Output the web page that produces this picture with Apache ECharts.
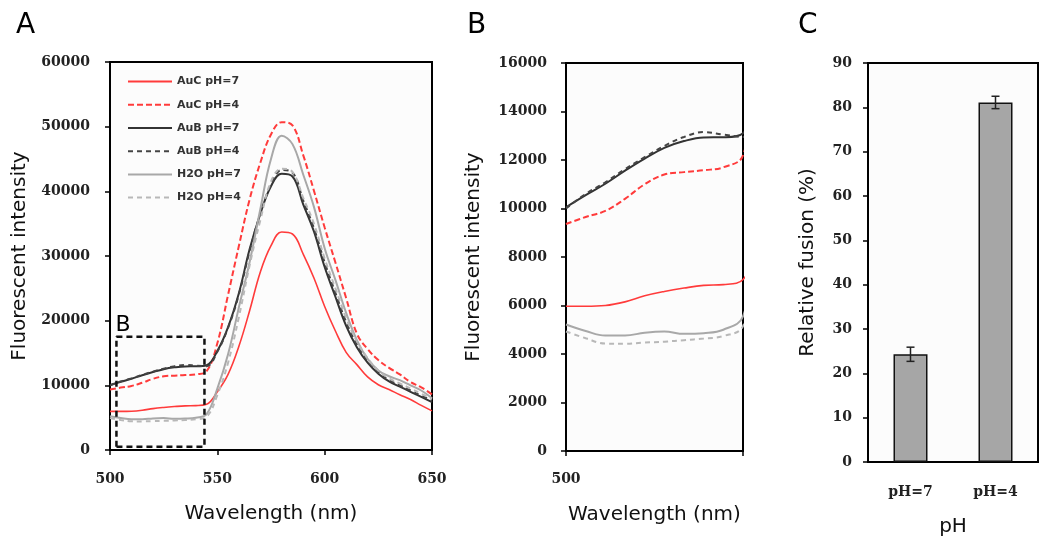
<!DOCTYPE html>
<html>
<head>
<meta charset="utf-8">
<script src="https://cdn.jsdelivr.net/npm/echarts@6/dist/echarts.min.js"></script>
<style>
html, body {margin: 0; background: #fff;}
#main {width: 1050px; height: 543px;}
</style>
</head>
<body>
<div id="main"></div>
<script>
let chart = echarts.init(document.getElementById("main"));
//----------------------Data----------------------
let wavelength = [500, 505, 510, 515, 520, 525, 530, 535, 540, 545, 550, 555, 560, 565, 570, 575,
    580, 585, 590, 595, 600, 605, 610, 615, 620, 625, 630, 635, 640, 645, 650];
let auc_ph7 = [5970, 5970, 6000, 6150, 6400, 6580, 6720, 6830, 6860, 7070, 9000, 11700, 16000, 21500, 27500, 31600,
    33700, 33400, 30300, 26600, 22200, 18400, 15100, 13200, 11300, 10100, 9350, 8550, 7800, 6900, 6050];
let auc_ph4 = [9360, 9650, 9900, 10400, 11000, 11400, 11500, 11580, 11700, 12190, 16500, 24000, 31500, 38700, 44400, 48800,
    50700, 50200, 45600, 40100, 34400, 29000, 23500, 18000, 15600, 13900, 12700, 11700, 10500, 9700, 8600];
let aub_ph7 = [10050, 10550, 11020, 11560, 12060, 12500, 12780, 12930, 12940, 13100, 15300, 19000, 24200, 31000, 36500, 40800,
    42700, 42300, 38000, 33800, 28300, 23700, 19200, 15900, 13500, 11800, 10600, 9800, 9000, 8200, 7400];
let aub_ph4 = [10000, 10600, 11080, 11620, 12120, 12580, 12950, 13150, 13050, 12950, 15200, 18900, 24000, 30700, 36500, 41000,
    43300, 42900, 38600, 34300, 29000, 24300, 19800, 16300, 13800, 12000, 10800, 10000, 9200, 8400, 7700];
let h2o_ph7 = [5214, 4950, 4760, 4760, 4880, 4930, 4830, 4860, 5000, 5550, 9500, 14800, 22000, 29000, 37200, 45000,
    48600, 47300, 42600, 37600, 31200, 26300, 21200, 17000, 14100, 12300, 11400, 10800, 10000, 9200, 8000];
let h2o_ph4 = [4930, 4650, 4430, 4420, 4470, 4510, 4570, 4640, 4740, 5150, 8500, 13500, 20500, 28500, 35500, 41500,
    43500, 43000, 39000, 35000, 29600, 25000, 20400, 16800, 14200, 12300, 11100, 10300, 9500, 8700, 7900];
// zoom box drawn on panel A (wavelength range, intensity range)
let box_x = [503, 544];
let box_y = [500, 17500];
// panel C
let ph_labels = ["pH=7", "pH=4"];
let fusion_mean = [24.3, 81.1];
let fusion_err = [1.6, 1.4];

//---------------------Styles---------------------
let plain_num = function (v) { return String(v); };
let serif_label = {fontFamily: "DejaVu Serif", fontWeight: "bold", fontSize: 14, color: "#222"};
let title_font = {fontFamily: "DejaVu Sans", fontSize: 20, color: "#111"};
let axis_line = {show: true, onZero: false, lineStyle: {color: "#000", width: 2}};
let axis_tick = {show: true, length: 5, lineStyle: {color: "#000", width: 1.5}};

let spectra = [
    {name: "AuC pH=7", values: auc_ph7, color: "#ff3b3b", type: "solid", width: 1.6},
    {name: "AuC pH=4", values: auc_ph4, color: "#ff3b3b", type: [6, 3], width: 2},
    {name: "AuB pH=7", values: aub_ph7, color: "#333333", type: "solid", width: 2},
    {name: "AuB pH=4", values: aub_ph4, color: "#444444", type: [5, 4], width: 2},
    {name: "H2O pH=7", values: h2o_ph7, color: "#a8a8a8", type: "solid", width: 2},
    {name: "H2O pH=4", values: h2o_ph4, color: "#b8b8b8", type: [5, 4], width: 2},
];

function to_pairs(xs, ys) {
    let out = [];
    for (let i = 0; i < xs.length; i++) out.push([xs[i], ys[i]]);
    return out;
}

//---------------------Series---------------------
let series_list = [];
for (let g = 0; g < 2; g++) {
    spectra.forEach(function (s) {
        series_list.push({
            type: "line",
            name: s.name,
            xAxisIndex: g,
            yAxisIndex: g,
            smooth: 0.4,
            symbol: "none",
            clip: true,
            lineStyle: {color: s.color, type: s.type, width: s.width},
            itemStyle: {color: s.color},
            data: to_pairs(wavelength, s.values),
            z: 3,
        });
    });
}
// dashed box marking the zoomed region of panel B
series_list.push({
    type: "line",
    xAxisIndex: 0,
    yAxisIndex: 0,
    symbol: "none",
    silent: true,
    lineStyle: {color: "#111", type: [6, 4], width: 2.5},
    data: [[box_x[0], box_y[0]], [box_x[1], box_y[0]], [box_x[1], box_y[1]],
        [box_x[0], box_y[1]], [box_x[0], box_y[0]]],
    z: 4,
});
// panel C bars
series_list.push({
    type: "bar",
    xAxisIndex: 2,
    yAxisIndex: 2,
    barWidth: "40%",
    itemStyle: {color: "#a6a6a6", borderColor: "#111", borderWidth: 1.5},
    data: fusion_mean,
});
// panel C error bars
series_list.push({
    type: "custom",
    xAxisIndex: 2,
    yAxisIndex: 2,
    data: fusion_mean.map(function (m, i) { return [i, m, fusion_err[i]]; }),
    renderItem: function (params, api) {
        let x = api.value(0), m = api.value(1), e = api.value(2);
        let hi = api.coord([x, m + e]);
        let lo = api.coord([x, m - e]);
        let cap = 4;
        let st = {stroke: "#222", lineWidth: 1.5};
        return {
            type: "group",
            children: [
                {type: "line", shape: {x1: hi[0], y1: hi[1], x2: lo[0], y2: lo[1]}, style: st},
                {type: "line", shape: {x1: hi[0] - cap, y1: hi[1], x2: hi[0] + cap, y2: hi[1]}, style: st},
                {type: "line", shape: {x1: lo[0] - cap, y1: lo[1], x2: lo[0] + cap, y2: lo[1]}, style: st},
            ],
        };
    },
    z: 5,
});

//----------------------Grid----------------------
let grids = [
    {left: 110, top: 62, width: 322, height: 388, show: true, borderColor: "#000", borderWidth: 2, backgroundColor: "#fcfcfc"},
    {left: 566, top: 63, width: 177, height: 388, show: true, borderColor: "#000", borderWidth: 2, backgroundColor: "#fcfcfc"},
    {left: 868, top: 63, width: 170, height: 399, show: true, borderColor: "#000", borderWidth: 2, backgroundColor: "#fcfcfc"},
];

let x_axes = [
    {gridIndex: 0, type: "value", min: 500, max: 650, interval: 50,
        axisLine: axis_line, axisTick: axis_tick, splitLine: {show: false},
        axisLabel: Object.assign({margin: 22, formatter: plain_num}, serif_label),
        name: "Wavelength (nm)", nameLocation: "middle", nameGap: 54, nameTextStyle: title_font},
    {gridIndex: 1, type: "value", min: 500, max: 545, interval: 45,
        axisLine: axis_line, axisTick: axis_tick, splitLine: {show: false},
        axisLabel: Object.assign({margin: 21, formatter: function (v) { return v === 500 ? "500" : ""; }}, serif_label),
        name: "Wavelength (nm)", nameLocation: "middle", nameGap: 54, nameTextStyle: title_font},
    {gridIndex: 2, type: "category", data: ph_labels,
        axisLine: axis_line, axisTick: {show: false}, splitLine: {show: false},
        axisLabel: Object.assign({margin: 23}, serif_label),
        name: "pH", nameLocation: "middle", nameGap: 55, nameTextStyle: title_font},
];
let y_axes = [
    {gridIndex: 0, type: "value", min: 0, max: 60000, interval: 10000,
        axisLine: axis_line, axisTick: axis_tick, splitLine: {show: false},
        axisLabel: Object.assign({margin: 20, formatter: plain_num}, serif_label),
        name: "Fluorescent intensity", nameLocation: "middle", nameGap: 80, nameTextStyle: title_font},
    {gridIndex: 1, type: "value", min: 0, max: 16000, interval: 2000,
        axisLine: axis_line, axisTick: axis_tick, splitLine: {show: false},
        axisLabel: Object.assign({margin: 19, formatter: plain_num}, serif_label),
        name: "Fluorescent intensity", nameLocation: "middle", nameGap: 82, nameTextStyle: title_font},
    {gridIndex: 2, type: "value", min: 0, max: 90, interval: 10,
        axisLine: axis_line, axisTick: axis_tick, splitLine: {show: false},
        axisLabel: Object.assign({margin: 16, formatter: plain_num}, serif_label),
        name: "Relative fusion (%)", nameLocation: "middle", nameGap: 50, nameTextStyle: title_font},
];

let letters = [
    {type: "text", left: 16, top: 12, style: {text: "A", font: "28px DejaVu Sans", fill: "#000"}},
    {type: "text", left: 467, top: 12, style: {text: "B", font: "28px DejaVu Sans", fill: "#000"}},
    {type: "text", left: 798, top: 12, style: {text: "C", font: "28px DejaVu Sans", fill: "#000"}},
];

//------------------Generate Graph------------------
let option = {
    backgroundColor: "#fff",
    animation: false,
    grid: grids,
    xAxis: x_axes,
    yAxis: y_axes,
    legend: {
        left: 122, top: 71, orient: "vertical",
        itemWidth: 44, itemHeight: 14, itemGap: 12,
        itemStyle: {opacity: 0},
        textStyle: {fontFamily: "DejaVu Sans", fontWeight: "bold", fontSize: 11, color: "#333"},
        data: spectra.map(function (s) { return s.name; }),
    },
    graphic: letters,
    series: series_list,
};
chart.setOption(option, true);

// "B" tag above the dashed box in panel A
let tag = chart.convertToPixel({gridIndex: 0}, [box_x[0], box_y[1]]);
chart.setOption({
    graphic: letters.concat([
        {type: "text", x: tag[0] - 1, y: tag[1] - 23, style: {text: "B", font: "22px DejaVu Sans", fill: "#000"}},
    ]),
});
</script>
</body>
</html>
